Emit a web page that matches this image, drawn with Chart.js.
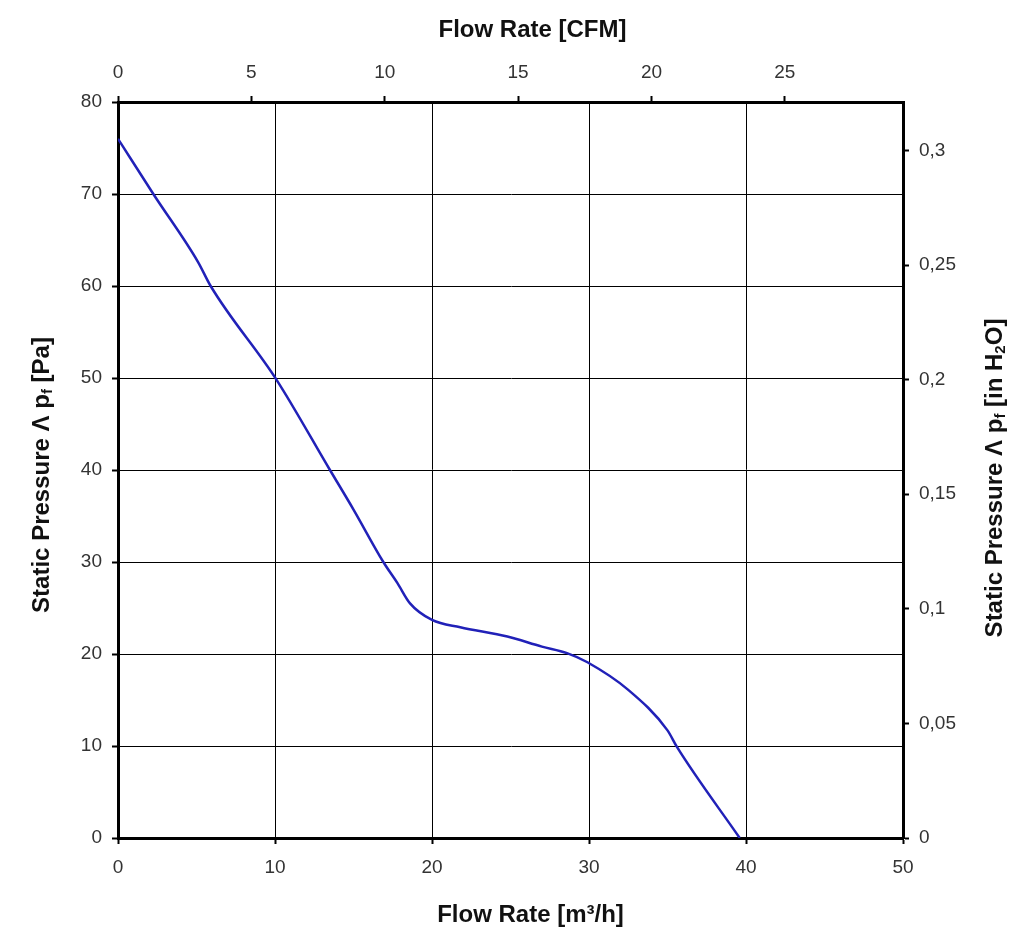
<!DOCTYPE html>
<html>
<head>
<meta charset="utf-8">
<title>Fan curve</title>
<script src="https://cdn.jsdelivr.net/npm/chart.js@4/dist/chart.umd.min.js"></script>
<style>
    html, body { margin: 0; padding: 0; background: #fff; }
    #wrap { width: 1024px; height: 951px; position: relative; }
</style>
</head>
<body>
<div id="wrap"><canvas id="fan-curve"></canvas></div>
<script>
    // Fan curve data
    const flowM3h = [0, 2.25, 5.1, 5.9, 10.1, 13.5, 15.0, 16.9, 17.8, 18.6, 20.0, 21.8, 24.8, 27.0, 28.6, 29.9, 32.5, 35.0, 35.6, 39.6];
    const pressurePa = [76, 70, 62.6, 60, 49.8, 40, 35.7, 30, 27.7, 25.5, 23.7, 22.9, 21.9, 20.8, 20.1, 19.1, 16.1, 11.7, 9.9, 0];

    // Axis ranges and tick labels
    const flowTicks = [0, 10, 20, 30, 40, 50];
    const pressureTicks = [0, 10, 20, 30, 40, 50, 60, 70, 80];
    const cfmTicks = [0, 5, 10, 15, 20, 25];
    const inH2oTicks = [0, 0.05, 0.1, 0.15, 0.2, 0.25, 0.3];

    // Unit conversions for the secondary axes
    const M3H_PER_CFM = 1.699;
    const PA_PER_INH2O = 249.089;

    const TICK_FONT = { family: "'Liberation Sans', Arial, sans-serif", size: 19 };
    const TITLE_FONT = "bold 24px 'Liberation Sans', Arial, sans-serif";
    const TICK_COLOR = '#333';

    /**
     * Draw a text made of segments, some of them subscript
     */
    function drawSegments(ctx, parts, cx, cy) {
        const base = TITLE_FONT;
        const small = TITLE_FONT.replace('24px', '15px');
        let total = 0;
        parts.forEach(function(p) {
            ctx.font = p.sub ? small : base;
            p.w = ctx.measureText(p.t).width;
            total += p.w;
        });
        let x = cx - total / 2;
        parts.forEach(function(p) {
            ctx.font = p.sub ? small : base;
            ctx.fillText(p.t, x, cy + (p.sub ? 6 : 0));
            x += p.w;
        });
    }

    // Axis titles, drawn by hand to get the subscripts
    const axisTitles = {
        id: 'axisTitles',
        afterDraw: function(chart) {
            const ctx = chart.ctx;
            const area = chart.chartArea;
            const midX = (area.left + area.right) / 2 + 20;
            const midY = (area.top + area.bottom) / 2;
            ctx.save();
            ctx.fillStyle = '#111';
            ctx.textBaseline = 'middle';
            ctx.textAlign = 'left';

            drawSegments(ctx, [{ t: 'Flow Rate [CFM]' }], midX + 2, 30);
            drawSegments(ctx, [{ t: 'Flow Rate [m³/h]' }], midX, 915);

            ctx.save();
            ctx.translate(42, midY + 5);
            ctx.rotate(-Math.PI / 2);
            drawSegments(ctx, [
                { t: 'Static Pressure Λ p' }, { t: 'f', sub: true }, { t: ' [Pa]' }
            ], 0, 0);
            ctx.restore();

            ctx.save();
            ctx.translate(995, midY + 8);
            ctx.rotate(-Math.PI / 2);
            drawSegments(ctx, [
                { t: 'Static Pressure Λ p' }, { t: 'f', sub: true },
                { t: ' [in H' }, { t: '2', sub: true }, { t: 'O]' }
            ], 0, 0);
            ctx.restore();

            ctx.restore();
        }
    };

    function fixedTicks(values) {
        return function(scale) {
            scale.ticks = values.map(function(v) { return { value: v }; });
        };
    }

    const ctx = document.getElementById('fan-curve').getContext('2d');

    new Chart(ctx, {
        type: 'line',
        data: {
            datasets: [{
                label: 'Static pressure',
                data: flowM3h.map(function(v, i) { return { x: v, y: pressurePa[i] }; }),
                borderColor: '#2121b8',
                borderWidth: 2.5,
                pointRadius: 0,
                cubicInterpolationMode: 'monotone',
                fill: false,
                xAxisID: 'x',
                yAxisID: 'y'
            }]
        },
        options: {
            responsive: true,
            maintainAspectRatio: false,
            animation: false,
            layout: { padding: 0 },
            plugins: {
                legend: { display: false },
                tooltip: { enabled: false }
            },
            scales: {
                x: {
                    type: 'linear',
                    position: 'bottom',
                    min: flowTicks[0],
                    max: flowTicks[flowTicks.length - 1],
                    afterBuildTicks: fixedTicks(flowTicks),
                    afterFit: function(scale) { scale.height = 113; },
                    border: { display: true, color: '#000', width: 3 },
                    grid: { color: '#000', lineWidth: 1, tickLength: 6, tickWidth: 2, tickColor: '#000' },
                    ticks: { font: TICK_FONT, color: TICK_COLOR, padding: 12, maxRotation: 0 }
                },
                x2: {
                    type: 'linear',
                    position: 'top',
                    min: 0,
                    max: flowTicks[flowTicks.length - 1] / M3H_PER_CFM,
                    afterBuildTicks: fixedTicks(cfmTicks),
                    afterFit: function(scale) { scale.height = 102; },
                    border: { display: true, color: '#000', width: 3 },
                    grid: { drawOnChartArea: false, tickLength: 6, tickWidth: 2, tickColor: '#000' },
                    ticks: { font: TICK_FONT, color: TICK_COLOR, padding: 12, maxRotation: 0 }
                },
                y: {
                    type: 'linear',
                    position: 'left',
                    min: pressureTicks[0],
                    max: pressureTicks[pressureTicks.length - 1],
                    afterBuildTicks: fixedTicks(pressureTicks),
                    afterFit: function(scale) { scale.width = 118; },
                    border: { display: true, color: '#000', width: 3 },
                    grid: { color: '#000', lineWidth: 1, tickLength: 6, tickWidth: 2, tickColor: '#000' },
                    ticks: { font: TICK_FONT, color: TICK_COLOR, padding: 10 }
                },
                y2: {
                    type: 'linear',
                    position: 'right',
                    min: 0,
                    max: pressureTicks[pressureTicks.length - 1] / PA_PER_INH2O,
                    afterBuildTicks: fixedTicks(inH2oTicks),
                    afterFit: function(scale) { scale.width = 121; },
                    border: { display: true, color: '#000', width: 3 },
                    grid: { drawOnChartArea: false, tickLength: 6, tickWidth: 2, tickColor: '#000' },
                    ticks: {
                        font: TICK_FONT,
                        color: TICK_COLOR,
                        padding: 10,
                        callback: function(value) {
                            return String(+value.toFixed(2)).replace('.', ',');
                        }
                    }
                }
            }
        },
        plugins: [axisTitles]
    });
</script>
</body>
</html>
